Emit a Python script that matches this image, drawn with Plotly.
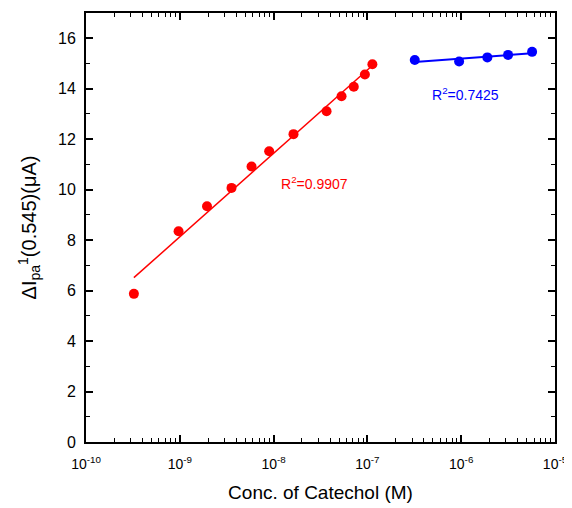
import numpy as np
import plotly.graph_objects as go

# Data
red_conc = [3.24e-10, 9.7e-10, 1.95e-9, 3.56e-9, 5.82e-9, 8.97e-9, 1.63e-8,
            3.67e-8, 5.3e-8, 7.16e-8, 9.4e-8, 1.13e-7]
red_ipa = [5.87, 8.35, 9.34, 10.07, 10.92, 11.52, 12.2, 13.11, 13.7, 14.08, 14.56, 14.97]
blue_conc = [3.2e-7, 9.5e-7, 1.9e-6, 3.16e-6, 5.7e-6]
blue_ipa = [15.14, 15.08, 15.24, 15.34, 15.46]
x_tickvals = [1e-10, 1e-9, 1e-8, 1e-7, 1e-6, 1e-5]
x_ticktext = ["10<sup>-10</sup>", "10<sup>-9</sup>", "10<sup>-8</sup>",
              "10<sup>-7</sup>", "10<sup>-6</sup>", "10<sup>-5</sup>"]
red_r2 = "R<sup>2</sup>=0.9907"
blue_r2 = "R<sup>2</sup>=0.7425"

FONT = "Liberation Sans, Arial, sans-serif"


def fit_line(xs, ys):
    lx = np.log10(xs)
    k, b = np.polyfit(lx, ys, 1)
    xx = np.array([min(xs), max(xs)])
    return xx, k * np.log10(xx) + b


fig = go.Figure()
rx, ry = fit_line(red_conc, red_ipa)
bx, by = fit_line(blue_conc, blue_ipa)
fig.add_trace(go.Scatter(x=rx, y=ry, mode="lines", line=dict(color="#FF0000", width=1.5),
                         showlegend=False, hoverinfo="skip"))
fig.add_trace(go.Scatter(x=bx, y=by, mode="lines", line=dict(color="#0000FF", width=2),
                         showlegend=False, hoverinfo="skip"))
fig.add_trace(go.Scatter(x=red_conc, y=red_ipa, mode="markers",
                         marker=dict(color="#FF0000", size=10), showlegend=False))
fig.add_trace(go.Scatter(x=blue_conc, y=blue_ipa, mode="markers",
                         marker=dict(color="#0000FF", size=10), showlegend=False))

fig.add_annotation(x=np.log10(2.7e-8), y=10.28, text=red_r2, showarrow=False,
                   font=dict(family=FONT, size=14, color="#FF0000"))
fig.add_annotation(x=np.log10(1.12e-6), y=13.8, text=blue_r2, showarrow=False,
                   font=dict(family=FONT, size=14, color="#0000FF"))

fig.update_xaxes(type="log", range=[-10, -5], tickvals=x_tickvals, ticktext=x_ticktext,
                 showline=True, linecolor="black", linewidth=2, mirror="ticks",
                 ticks="inside", ticklen=7, tickwidth=1.5, tickcolor="black",
                 minor=dict(dtick="D1", ticks="inside", ticklen=4, tickwidth=1.2, tickcolor="black"),
                 showgrid=False, zeroline=False, automargin=False, ticklabelstandoff=8,
                 tickfont=dict(family=FONT, size=14, color="black"),
                 title=dict(text="Conc. of Catechol (M)", font=dict(family=FONT, size=19, color="black")))
fig.update_yaxes(range=[0, 17], dtick=2, tick0=0,
                 showline=True, linecolor="black", linewidth=2, mirror="ticks",
                 ticks="inside", ticklen=7, tickwidth=1.5, tickcolor="black",
                 minor=dict(dtick=1, ticks="inside", ticklen=4, tickwidth=1.2, tickcolor="black"),
                 showgrid=False, zeroline=False, automargin=False, ticklabelstandoff=5,
                 tickfont=dict(family=FONT, size=16, color="black"),
                 title=dict(text="ΔI<sub>pa</sub><sup>1</sup>(0.545)(μA)",
                            font=dict(family=FONT, size=20, color="black"), standoff=16))

# page body adds an 8px offset, so the figure is 8px smaller than the window
fig.update_layout(width=564, height=500, margin=dict(l=78, r=17, t=5, b=66),
                  plot_bgcolor="white", paper_bgcolor="white")

fig.write_html("out.html")
